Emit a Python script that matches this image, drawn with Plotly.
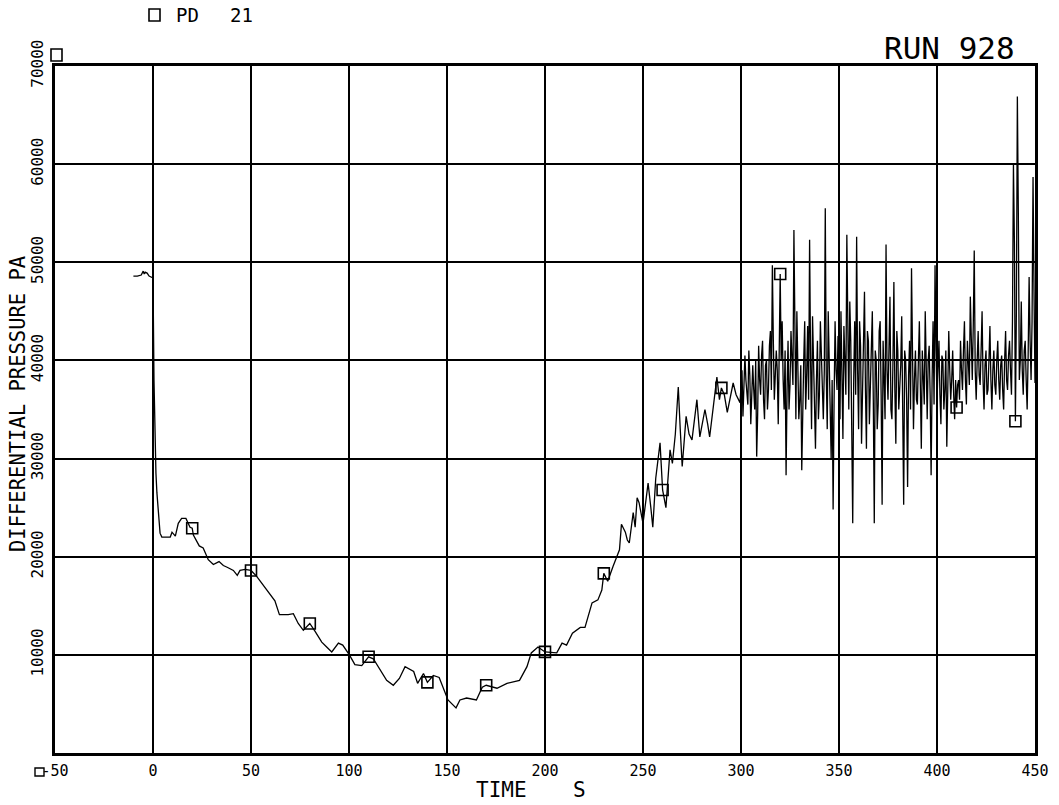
import plotly.graph_objects as go

# ---- data (time in s, differential pressure in kPa) ----
time_s = [-10, -8, -6, -5, -4.5, -4, -3, -2, -1, 0, 0.5, 1, 1.5, 2, 3, 3.6, 4.5, 8.8, 9.7, 11.4,
          12.9, 14.6, 16.8, 18.9, 20, 20.6, 23.6, 25.6, 28.2, 30.8, 33.7, 35.9, 38.1, 41, 43, 44.4,
          47, 50, 52.9, 56.3, 59.3, 62.2, 64.5, 66.5, 69, 71.6, 74.1, 76.7, 80, 82.7, 86.1, 88.6,
          91.2, 94.6, 96.8, 100.2, 103, 106.5, 110, 112.4, 115.8, 119.2, 122.6, 125.7, 128.6, 133,
          135, 138, 140, 143, 146, 150.5, 154.6, 156.6, 160, 165, 168, 170, 175.5, 180.6, 187,
          190.8, 193, 196.4, 200, 206, 208.7, 211, 214, 218, 220.4, 224, 227, 229, 230, 232, 234.7,
          238, 239, 241, 242, 243, 245, 246, 247, 248, 250, 251, 252.6, 254, 255, 256.5, 258.7,
          260, 261.7, 263.8, 265, 266.5, 268, 269, 270, 272, 273.5, 275, 277.5, 279, 281.6, 283,
          284, 286, 287.7, 289, 290, 291.5, 293, 296, 297.5, 299.5, 300]

pressure_k = [48.6, 48.6, 48.7, 49.1, 48.8, 49.0, 48.9, 48.6, 48.5, 48.4, 38.0, 31.0, 28.5, 26.5,
              23.5, 22.4, 22.0, 22.0, 22.5, 22.1, 23.4, 23.9, 23.9, 23.0, 22.9, 22.2, 21.1, 20.9,
              19.7, 19.2, 19.5, 19.1, 18.9, 18.6, 18.1, 18.6, 18.7, 18.6, 18.0, 17.1, 16.3, 15.5,
              14.1, 14.1, 14.1, 14.2, 13.2, 12.5, 13.2, 12.4, 11.3, 10.8, 10.3, 11.2, 11.0, 10.0,
              9.0, 8.9, 9.8, 9.6, 8.5, 7.4, 6.9, 7.6, 8.8, 8.3, 7.1, 8.1, 7.2, 7.9, 7.7, 5.4, 4.6,
              5.4, 5.6, 5.4, 6.7, 6.9, 6.6, 7.1, 7.4, 8.8, 10.2, 10.8, 10.3, 10.2, 11.2, 11.0, 12.2,
              12.8, 12.8, 15.3, 15.6, 16.6, 18.3, 17.5, 19.0, 20.7, 23.3, 22.5, 21.7, 21.4, 24.5,
              23.0, 26.0, 25.5, 23.4, 25.0, 27.5, 25.0, 23.0, 28.0, 31.6, 26.8, 25.0, 30.9, 29.5,
              32.5, 37.3, 33.0, 29.2, 34.3, 32.5, 31.9, 36.0, 32.2, 35.0, 33.5, 32.2, 35.5, 38.3,
              36.0, 37.2, 36.5, 34.7, 37.7, 36.5, 35.7, 37.0]

# noisy section: readings at whole seconds 301..450
noise_whole_k = [34.3, 40.5, 36.0, 41.0, 33.5, 39.5, 35.0, 30.2, 41.5, 36.5,
                 42.0, 34.0, 40.0, 37.0, 43.0, 49.7, 36.0, 41.0, 33.5, 48.8,
                 44.0, 35.0, 28.3, 42.0, 37.5, 40.5, 53.3, 34.0, 41.0, 36.0,
                 28.8, 40.0, 35.0, 43.5, 52.3, 33.0, 39.0, 31.0, 42.0, 36.5,
                 40.5, 34.0, 55.5, 33.0, 41.0, 30.0, 24.8, 44.0, 37.0, 38.0,
                 45.0, 32.0, 40.0, 52.8, 35.0, 42.0, 23.4, 44.0, 52.6, 33.0,
                 41.5, 36.0, 47.0, 31.0, 42.0, 37.0, 45.0, 23.4, 40.0, 35.5,
                 44.0, 25.3, 39.0, 51.8, 36.0, 46.5, 34.0, 48.0, 31.5, 41.0,
                 37.0, 44.5, 25.3, 40.0, 27.1, 42.0, 49.4, 33.0, 41.0, 35.5,
                 44.0, 31.0, 39.0, 45.0, 34.0, 41.5, 28.3, 44.0, 49.7, 36.0,
                 42.0, 33.5, 40.0, 37.0, 31.2, 43.0, 36.0, 41.0, 34.0, 35.2,
                 38.0, 42.0, 37.0, 44.0, 35.5, 40.0, 46.5, 38.0, 51.2, 36.0,
                 43.0, 37.5, 45.0, 35.0, 41.0, 37.0, 43.5, 35.0, 41.0, 36.5,
                 42.0, 36.0, 40.5, 35.0, 43.0, 37.0, 42.0, 36.5, 60.0, 33.8,
                 66.9, 38.0, 46.0, 36.5, 42.0, 35.0, 48.5, 38.0, 58.7, 37.7]

# noisy section: readings at half seconds 300.5..449.5
noise_half_k = [39.0, 37.5, 38.0, 35.5, 38.5, 36.5, 37.0, 40.0, 34.5, 38.0,
                40.5, 36.0, 39.5, 35.0, 41.5, 37.0, 42.0, 38.5, 39.0, 41.0,
                40.0, 38.0, 41.0, 37.0, 35.0, 43.0, 37.5, 39.0, 45.0, 34.0,
                39.5, 36.0, 44.0, 38.5, 36.0, 40.0, 44.5, 33.5, 38.0, 34.0,
                44.0, 37.0, 39.0, 38.5, 45.0, 35.5, 38.0, 36.0, 39.0, 42.5,
                34.0, 37.0, 43.5, 36.5, 40.0, 46.0, 33.0, 38.0, 36.5, 39.0,
                44.0, 31.5, 40.5, 37.0, 43.0, 33.5, 40.0, 36.0, 41.0, 33.0,
                43.0, 36.5, 42.0, 34.0, 39.0, 41.5, 35.0, 39.5, 37.0, 43.0,
                35.0, 39.5, 37.0, 41.0, 36.0, 38.5, 35.0, 41.0, 38.0, 36.0,
                40.0, 37.5, 41.0, 35.5, 38.5, 40.0, 36.5, 38.0, 35.5, 41.0,
                39.0, 36.5, 40.5, 35.0, 41.0, 37.0, 39.0, 38.0, 36.5, 38.0,
                37.5, 36.0, 39.0, 41.0, 38.0, 42.0, 37.5, 40.5, 43.5, 39.0,
                40.0, 38.5, 41.0, 38.0, 39.5, 36.5, 40.0, 38.0, 39.0, 37.5,
                40.0, 38.0, 39.5, 37.0, 40.0, 38.0, 40.5, 39.0, 44.0, 52.0,
                45.0, 55.0, 40.0, 39.0, 41.0, 38.0, 40.5, 42.0, 44.0, 47.0]

marker_times = [20, 50, 80, 110, 140, 170, 200, 230, 260, 290, 320, 410, 440]

x_ticks = [-50, 0, 50, 100, 150, 200, 250, 300, 350, 400, 450]
y_ticks = [10000, 20000, 30000, 40000, 50000, 60000, 70000]

# ---- assemble the series ----
all_t = list(time_s)
all_k = list(pressure_k)
for i in range(150):
    all_t += [300.5 + i, 301 + i]
    all_k += [noise_half_k[i], noise_whole_k[i]]
pressure = [v * 1000 for v in all_k]
lookup = dict(zip(all_t, pressure))
marker_vals = [lookup[t] for t in marker_times]

FONT = "DejaVu Sans Mono"
NB = "\u00a0"

fig = go.Figure()
fig.add_trace(go.Scatter(x=all_t, y=pressure, mode="lines",
                         line=dict(color="black", width=1.3), showlegend=False))
fig.add_trace(go.Scatter(x=marker_times, y=marker_vals, mode="markers",
                         marker=dict(symbol="square-open", size=11, color="black",
                                     line=dict(width=1.6, color="black")),
                         showlegend=False))

axis_common = dict(showgrid=True, gridcolor="black", gridwidth=1.6, zeroline=False,
                   showline=True, linecolor="black", linewidth=2.5, mirror=True,
                   ticks="", automargin=False)

# plot area in pixels: x 55..1035, y 66..753
L, R, T, B = 55, 1035, 66, 753
def px(x):
    return (x - L) / (R - L)
def py(y):
    return (B - y) / (B - T)

fig.update_layout(
    width=1059, height=805,
    margin=dict(l=L, r=1059 - R, t=T, b=805 - B),
    paper_bgcolor="white", plot_bgcolor="white",
    xaxis=dict(range=[-50, 450], tickvals=x_ticks, ticktext=[str(v) for v in x_ticks],
               tickfont=dict(family=FONT, size=15, color="black"), ticklabelstandoff=2,
               **axis_common),
    yaxis=dict(range=[0, 70000], tickvals=y_ticks, ticktext=[str(v) for v in y_ticks],
               tickangle=-90, ticklabelstandoff=3,
               tickfont=dict(family=FONT, size=16, color="black"),
               **axis_common),
    annotations=[
        dict(text="DIFFERENTIAL" + NB + "PRESSURE" + NB + "PA", xref="paper", yref="paper",
             x=px(18), y=py(404), xanchor="center", yanchor="middle", textangle=-90,
             showarrow=False, font=dict(family=FONT, size=20.5, color="black")),
        dict(text="RUN" + NB + "928", xref="paper", yref="paper", x=px(1017), y=py(48),
             xanchor="right", yanchor="middle", showarrow=False,
             font=dict(family=FONT, size=31, color="black")),
        dict(text="PD", xref="paper", yref="paper", x=px(174), y=py(15),
             xanchor="left", yanchor="middle", showarrow=False,
             font=dict(family=FONT, size=19, color="black")),
        dict(text="21", xref="paper", yref="paper", x=px(228), y=py(15),
             xanchor="left", yanchor="middle", showarrow=False,
             font=dict(family=FONT, size=19, color="black")),
        dict(text="TIME", xref="paper", yref="paper", x=px(474), y=py(790),
             xanchor="left", yanchor="middle", showarrow=False,
             font=dict(family=FONT, size=21, color="black")),
        dict(text="S", xref="paper", yref="paper", x=px(571), y=py(790),
             xanchor="left", yanchor="middle", showarrow=False,
             font=dict(family=FONT, size=21, color="black")),
    ],
    shapes=[
        dict(type="rect", xref="paper", yref="paper",
             x0=px(51), x1=px(62), y0=py(61), y1=py(49),
             line=dict(color="black", width=1.6)),
        dict(type="rect", xref="paper", yref="paper",
             x0=px(149), x1=px(160), y0=py(21), y1=py(9),
             line=dict(color="black", width=1.6)),
        dict(type="rect", xref="paper", yref="paper",
             x0=px(35), x1=px(44), y0=py(776), y1=py(768),
             line=dict(color="black", width=1.4)),
    ],
)

fig.write_html("out.html", config={"displayModeBar": False},
               post_script="document.body.style.margin='0';")
